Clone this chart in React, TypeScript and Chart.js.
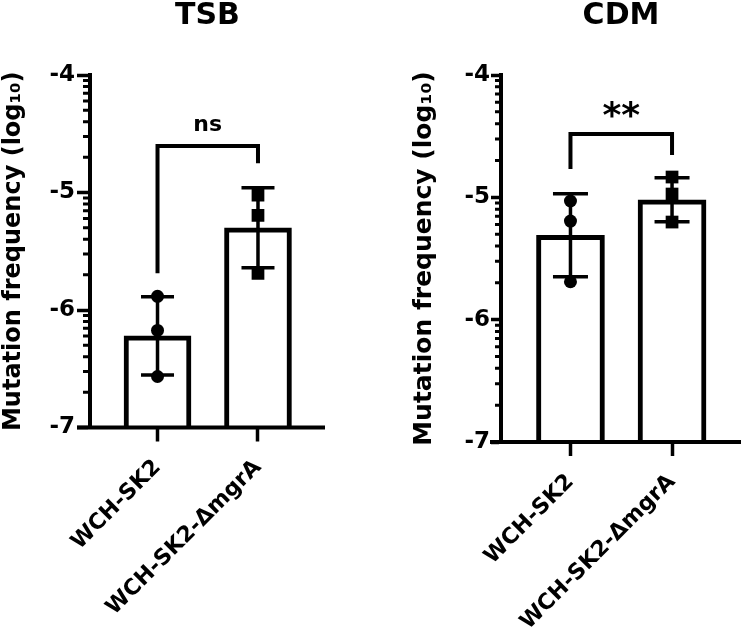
import React, { useEffect, useRef } from 'react';
import { Chart, registerables } from 'chart.js';

Chart.register(...registerables);

// ---------- data ----------
const CATEGORIES = ['WCH-SK2', 'WCH-SK2-ΔmgrA'];
const Y_TICKS = [-7, -6, -5, -4];
const MINOR_DECADES = [-7, -6, -5];
const MINOR_MULTIPLES = [2, 3, 4, 5, 6, 7, 8, 9];

const TSB_MEANS = [-6.22, -5.3];
const TSB_SD = [0.333, 0.34];
const TSB_WT_POINTS = [-5.884, -6.174, -6.566];
const TSB_MUT_POINTS = [-5.023, -5.194, -5.688];
const TSB_BRACKET = [-4.605, -5.688, -4.75]; // top, left leg end, right leg end
const TSB_SIG = 'ns';
const TSB_SIG_Y = -4.426;

const CDM_MEANS = [-5.31, -5.02];
const CDM_SD = [0.34, 0.18];
const CDM_WT_POINTS = [-5.03, -5.194, -5.69];
const CDM_MUT_POINTS = [-4.834, -4.973, -5.202];
const CDM_BRACKET = [-4.482, -4.769, -4.654];
const CDM_SIG = '**';
const CDM_SIG_Y = -4.278;

const FONT = "'DejaVu Sans', sans-serif";
const H = 639;

const TSB_CFG = {
  title: 'TSB', means: TSB_MEANS, sd: TSB_SD, wt: TSB_WT_POINTS, mut: TSB_MUT_POINTS,
  bracket: TSB_BRACKET, sig: TSB_SIG, sigY: TSB_SIG_Y, sigSize: 22,
  axisLeft: 90, padRight: 50, bottom: 427.5, xMin: -0.672, xMax: 1.667,
  majorLen: 13, minorLen: 7, tickPad: 2, yTitleSize: 24, yTitlePad: 2,
  barThickness: 67, capHalf: 16.5, axisExt: 13,
};

const CDM_CFG = {
  title: 'CDM', means: CDM_MEANS, sd: CDM_SD, wt: CDM_WT_POINTS, mut: CDM_MUT_POINTS,
  bracket: CDM_BRACKET, sig: CDM_SIG, sigY: CDM_SIG_Y, sigSize: 36,
  axisLeft: 126, padRight: 2, bottom: 442, xMin: -0.684, xMax: 1.679,
  majorLen: 10, minorLen: 6, tickPad: 1, yTitleSize: 25, yTitlePad: 37,
  barThickness: 68, capHalf: 17.5, axisExt: 11,
};

function makePlugin(cfg: any) {
  return {
    id: 'decor_' + cfg.title,
    afterDatasetDraw(chart: any, args: any) {
      if (args.index !== 0) return;
      const { ctx } = chart;
      const x = chart.scales.x;
      const y = chart.scales.y;
      ctx.save();
      ctx.strokeStyle = '#000';
      ctx.lineWidth = 3.5;
      cfg.means.forEach((m: number, i: number) => {
        const px = x.getPixelForValue(i);
        const yt = y.getPixelForValue(m + cfg.sd[i]);
        const yb = y.getPixelForValue(m - cfg.sd[i]);
        ctx.beginPath();
        ctx.moveTo(px, yt);
        ctx.lineTo(px, yb);
        ctx.moveTo(px - cfg.capHalf, yt);
        ctx.lineTo(px + cfg.capHalf, yt);
        ctx.moveTo(px - cfg.capHalf, yb);
        ctx.lineTo(px + cfg.capHalf, yb);
        ctx.stroke();
      });
      ctx.restore();
    },
    afterDraw(chart: any) {
      const { ctx, chartArea: ca } = chart;
      const x = chart.scales.x;
      const y = chart.scales.y;
      ctx.save();
      ctx.strokeStyle = '#000';
      ctx.fillStyle = '#000';
      // minor ticks
      ctx.lineWidth = 3;
      ctx.beginPath();
      MINOR_DECADES.forEach((d) => {
        MINOR_MULTIPLES.forEach((k) => {
          const py = y.getPixelForValue(d + Math.log10(k));
          ctx.moveTo(ca.left - cfg.minorLen, py);
          ctx.lineTo(ca.left, py);
        });
      });
      ctx.stroke();
      // x axis line
      ctx.lineWidth = 4;
      ctx.beginPath();
      ctx.moveTo(ca.left - cfg.axisExt, ca.bottom);
      ctx.lineTo(ca.right, ca.bottom);
      ctx.stroke();
      // bracket
      const x0 = x.getPixelForValue(0);
      const x1 = x.getPixelForValue(1);
      const [top, l, r] = cfg.bracket;
      ctx.lineWidth = 4;
      ctx.lineJoin = 'miter';
      ctx.beginPath();
      ctx.moveTo(x0, y.getPixelForValue(l));
      ctx.lineTo(x0, y.getPixelForValue(top));
      ctx.lineTo(x1, y.getPixelForValue(top));
      ctx.lineTo(x1, y.getPixelForValue(r));
      ctx.stroke();
      // significance label
      ctx.font = `bold ${cfg.sigSize}px ${FONT}`;
      ctx.textAlign = 'center';
      ctx.textBaseline = 'alphabetic';
      const m = ctx.measureText(cfg.sig);
      const yc = y.getPixelForValue(cfg.sigY);
      ctx.fillText(cfg.sig, (x0 + x1) / 2, yc + (m.actualBoundingBoxAscent - m.actualBoundingBoxDescent) / 2);
      // title
      ctx.font = `bold 30px ${FONT}`;
      ctx.textBaseline = 'middle';
      ctx.fillText(cfg.title, (ca.left + ca.right) / 2, 16);
      ctx.restore();
    },
  };
}

function Panel({ cfg }: { cfg: any }) {
  const ref = useRef<HTMLCanvasElement>(null);
  useEffect(() => {
    const chart = new Chart(ref.current as HTMLCanvasElement, {
      type: 'bar',
      data: {
        datasets: [
          {
            type: 'bar',
            order: 3,
            data: cfg.means.map((m: number, i: number) => ({ x: i, y: [-7, m] })),
            backgroundColor: '#fff',
            borderColor: '#000',
            borderWidth: 5,
            borderSkipped: 'top',
            barThickness: cfg.barThickness,
          } as any,
          {
            type: 'scatter',
            order: 1,
            data: cfg.wt.map((v: number) => ({ x: 0, y: v })),
            pointStyle: 'circle',
            pointRadius: 6.5,
            backgroundColor: '#000',
            borderColor: '#000',
            borderWidth: 0,
          } as any,
          {
            type: 'scatter',
            order: 2,
            data: cfg.mut.map((v: number) => ({ x: 1, y: v })),
            pointStyle: 'rect',
            pointRadius: 9,
            backgroundColor: '#000',
            borderColor: '#000',
            borderWidth: 0,
          } as any,
        ],
      },
      options: {
        responsive: false,
        animation: false,
        layout: { padding: { top: 75, right: cfg.padRight, left: 0, bottom: 0 } },
        plugins: {
          legend: { display: false },
          tooltip: { enabled: false },
          title: { display: false },
        },
        scales: {
          x: {
            type: 'linear',
            min: cfg.xMin,
            max: cfg.xMax,
            offset: false,
            border: { display: false },
            grid: {
              display: true,
              offset: false,
              drawOnChartArea: false,
              drawTicks: true,
              tickLength: 14,
              tickWidth: 3.5,
              tickColor: '#000',
              color: '#000',
            },
            ticks: {
              autoSkip: false,
              minRotation: 45,
              maxRotation: 45,
              padding: 13,
              color: '#000',
              font: { family: FONT, size: 22, weight: 'bold' },
              callback: (v: any) => CATEGORIES[v] ?? '',
            },
            afterBuildTicks: (s: any) => {
              s.ticks = CATEGORIES.map((_, i) => ({ value: i }));
            },
            afterFit: (s: any) => {
              s.height = H - cfg.bottom;
            },
          },
          y: {
            type: 'linear',
            min: -7,
            max: -4,
            border: { display: true, color: '#000', width: 4 },
            grid: {
              display: true,
              drawOnChartArea: false,
              drawTicks: true,
              tickLength: cfg.majorLen,
              tickWidth: 3.5,
              tickColor: '#000',
              color: '#000',
            },
            ticks: {
              padding: cfg.tickPad,
              color: '#000',
              font: { family: FONT, size: 23, weight: 'bold' },
              callback: (v: any) => String(v),
            },
            afterBuildTicks: (s: any) => {
              s.ticks = Y_TICKS.map((v) => ({ value: v }));
            },
            title: {
              display: true,
              text: 'Mutation frequency (log₁₀)',
              color: '#000',
              font: { family: FONT, size: cfg.yTitleSize, weight: 'bold', lineHeight: 1 },
              padding: { top: cfg.yTitlePad, bottom: 0 },
            },
            afterFit: (s: any) => {
              s.width = cfg.axisLeft;
            },
          },
        },
      } as any,
      plugins: [makePlugin(cfg)],
    });
    return () => chart.destroy();
  }, []);
  return (
    <canvas
      ref={ref}
      width={375}
      height={H}
      style={{ display: 'block', width: 375, height: H }}
    />
  );
}

export default function App() {
  return (
    <div
      style={{
        position: 'absolute',
        left: 0,
        top: 0,
        width: 750,
        height: H,
        display: 'flex',
        background: '#fff',
      }}
    >
      <Panel cfg={TSB_CFG} />
      <Panel cfg={CDM_CFG} />
    </div>
  );
}
